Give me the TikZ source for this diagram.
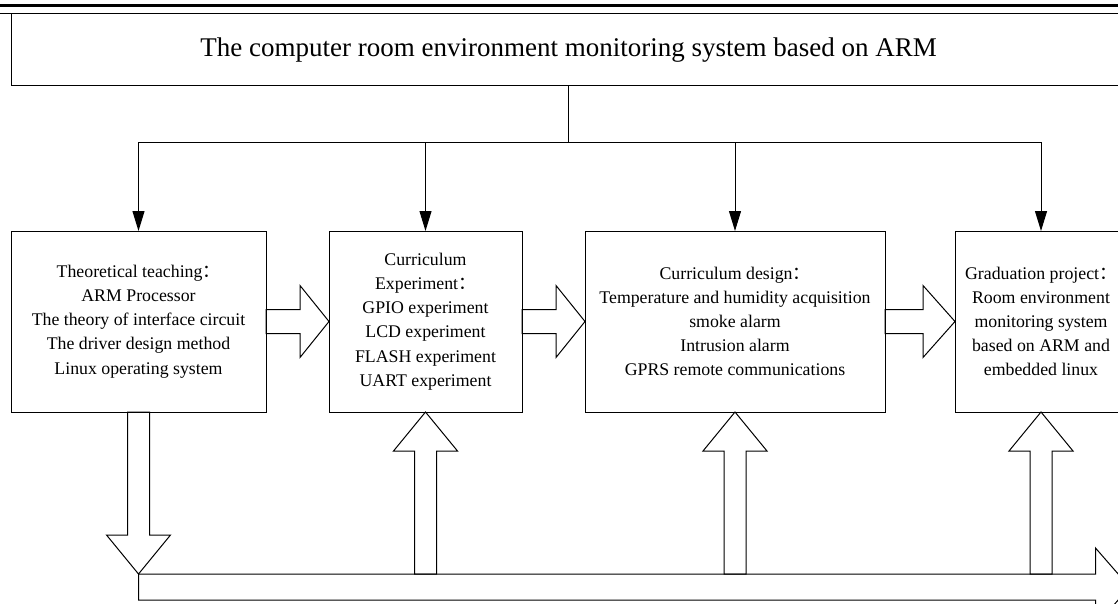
\documentclass[tikz,border=0pt]{standalone}
\usepackage{fontspec}
\setmainfont{Liberation Serif}
\newfontfamily\cjk{Noto Sans CJK SC}
\usepackage{tikz}
\usetikzlibrary{positioning,arrows.meta}
\tikzstyle{block} = [draw, rectangle, align=center, minimum height=181pt, inner sep=0pt, outer sep=0pt, font=\fontsize{17.8}{24.2}\selectfont]
\tikzstyle{head} = [draw, rectangle, minimum width=1115pt, minimum height=72pt, outer sep=0pt, font=\fontsize{27}{32}\selectfont]
\newcommand{\fcolon}{{\cjk ：}}
% tail, angle, length, head length, head half width, shaft half width
\newcommand{\fatarrow}[6]{\draw [shift={(#1)}, rotate=#2] (0,#6) -- (#3-#4,#6) -- (#3-#4,#5) -- (#3,0) -- (#3-#4,-#5) -- (#3-#4,-#6) -- (0,-#6) -- cycle;}
\begin{document}
\begin{tikzpicture}[x=1pt, y=-1pt, line width=1pt, >={Triangle[length=20pt,width=12pt]}]
\useasboundingbox (0,0) rectangle (1118,604);
\clip (0,0) rectangle (1118,604);
\draw [line width=3pt] (0,6) -- (1118,6);
\draw (0,14) -- (1118,14);
\node (title) [head] at (568.5,50) {The computer room environment monitoring system based on ARM};
\node (theory) [block, minimum width=255pt] at (138.5,321.5) {Theoretical teaching\fcolon\\ARM Processor\\The theory of interface circuit\\The driver design method\\Linux operating system};
\node (expt) [block, minimum width=193pt, right=63pt of theory] {Curriculum\\Experiment\fcolon\\GPIO experiment\\LCD experiment\\FLASH experiment\\UART experiment};
\node (design) [block, minimum width=300pt, right=63pt of expt] {Curriculum design\fcolon\\Temperature and humidity acquisition\\smoke alarm\\Intrusion alarm\\GPRS remote communications};
\node (grad) [block, minimum width=172pt, right=70pt of design] {Graduation project\fcolon\\Room environment\\monitoring system\\based on ARM and\\embedded linux};
\coordinate (fork) at (568.5,143);
\draw [->] (title.south) -- (fork) -| (theory.north);
\draw [->] (fork) -| (expt.north);
\draw [->] (fork) -| (design.north);
\draw [->] (fork) -| (grad.north);
\fatarrow{theory.east}{0}{63}{29}{36}{12}
\fatarrow{expt.east}{0}{63}{29}{36}{12}
\fatarrow{design.east}{0}{70}{32}{36}{12}
\fatarrow{theory.south}{-90}{162}{39}{32}{11}
\coordinate (bustop) at (138.5,574);
\coordinate (bus) at (138.5,587);
\fatarrow{bus}{0}{991}{34}{39}{13}
\fatarrow{expt.south |- bustop}{90}{162}{39}{32}{11}
\fatarrow{design.south |- bustop}{90}{162}{39}{32}{11}
\fatarrow{grad.south |- bustop}{90}{162}{39}{32}{11}
\end{tikzpicture}
\end{document}
